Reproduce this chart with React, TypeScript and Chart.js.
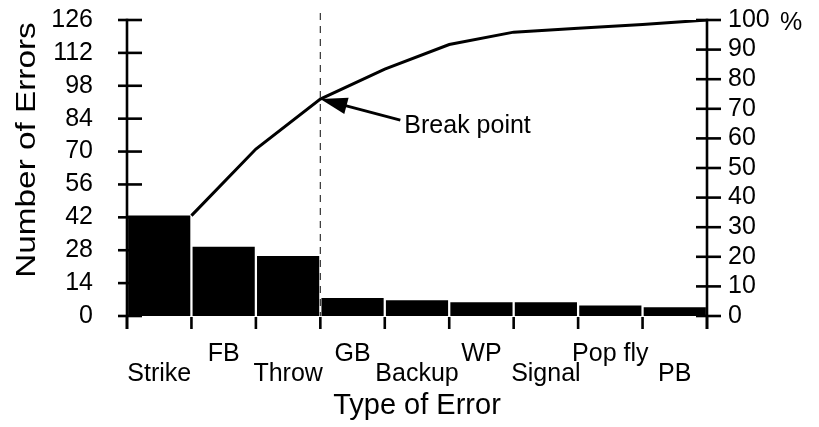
import React, { useEffect, useRef } from 'react';
import { Chart, registerables } from 'chart.js';

Chart.register(...registerables);

const FONT = '"Liberation Sans", Arial, Helvetica, sans-serif';

// ---- data ----
const categories = ['Strike', 'FB', 'Throw', 'GB', 'Backup', 'WP', 'Signal', 'Pop fly', 'PB'];
const errorCounts = [42.8, 29.5, 25.5, 7.7, 6.7, 5.8, 5.8, 4.5, 3.7];
const cumulativePct = [33.9, 56.4, 73.3, 83.4, 91.7, 95.9, 97.2, 98.5, 100];
const countTicks = [0, 14, 28, 42, 56, 70, 84, 98, 112, 126];
const pctTicks = [0, 10, 20, 30, 40, 50, 60, 70, 80, 90, 100];
const breakIndex = 2; // "Throw" – break point of the Pareto curve
const xTitle = 'Type of Error';
const yTitle = 'Number of Errors';
const y2Unit = '%';
const breakLabel = 'Break point';

export default function App() {
  const ref = useRef<HTMLCanvasElement>(null);

  useEffect(() => {
    document.body.style.margin = '0';
    const canvas = ref.current!;

    const overlay = {
      id: 'overlay',
      afterDatasetsDraw(chart: any) {
        const { ctx, chartArea } = chart;
        const { left, right, top, bottom } = chartArea;
        const y = chart.scales.y;
        const y2 = chart.scales.y2;
        const x2 = chart.scales.x2;
        const seg = (a: number, b: number, c: number, d: number) => {
          ctx.beginPath();
          ctx.moveTo(a, b);
          ctx.lineTo(c, d);
          ctx.stroke();
        };
        ctx.save();
        ctx.strokeStyle = '#000';
        ctx.fillStyle = '#000';
        ctx.lineWidth = 2.6;
        ctx.lineCap = 'butt';

        // left axis + ticks
        seg(left, y.getPixelForValue(countTicks[countTicks.length - 1]) - 1.3, left, bottom + 13);
        countTicks.forEach((v) => {
          const py = y.getPixelForValue(v);
          seg(left - 9, py, left + 15, py);
        });
        // right axis + ticks
        seg(right, y2.getPixelForValue(pctTicks[pctTicks.length - 1]) - 1.3, right, bottom + 13);
        pctTicks.forEach((v) => {
          const py = y2.getPixelForValue(v);
          seg(right - 11, py, right + 14, py);
        });
        // category boundary ticks
        for (let i = 0; i <= categories.length; i++) {
          const px = x2.getPixelForValue(i);
          seg(px, bottom + 1, px, bottom + 13);
        }

        // dashed break line
        const bx = x2.getPixelForValue(breakIndex + 1);
        const by = y2.getPixelForValue(cumulativePct[breakIndex]);
        ctx.save();
        ctx.lineWidth = 1.2;
        ctx.strokeStyle = '#333';
        ctx.setLineDash([7, 6]);
        seg(bx, top - 7, bx, bottom);
        ctx.restore();

        // arrow
        const dx = 80, dy = 21;
        const len = Math.hypot(dx, dy);
        const ux = dx / len, uy = dy / len;
        const px = -uy, py = ux;
        const hl = 27, hw = 8.5;
        ctx.lineWidth = 2.8;
        seg(bx + ux * (hl - 2), by + uy * (hl - 2), bx + dx, by + dy);
        ctx.beginPath();
        ctx.moveTo(bx, by);
        ctx.lineTo(bx + ux * hl + px * hw, by + uy * hl + py * hw);
        ctx.lineTo(bx + ux * hl - px * hw, by + uy * hl - py * hw);
        ctx.closePath();
        ctx.fill();

        ctx.font = `25px ${FONT}`;
        ctx.textAlign = 'left';
        ctx.textBaseline = 'alphabetic';
        ctx.fillText(breakLabel, bx + 84, by + 34);

        // % unit
        ctx.fillText(y2Unit, right + 73, y2.getPixelForValue(100) + 10);

        // x title
        ctx.font = `29px ${FONT}`;
        ctx.textAlign = 'center';
        ctx.fillText(xTitle, (left + right) / 2, 414);

        // y title (rotated)
        ctx.save();
        ctx.translate(35, 150);
        ctx.rotate(-Math.PI / 2);
        ctx.scale(1.19, 1);
        ctx.font = `28px ${FONT}`;
        ctx.textAlign = 'center';
        ctx.fillText(yTitle, 0, 0);
        ctx.restore();

        ctx.restore();
      },
    };

    const labels = categories.map((c, i) => (i % 2 === 0 ? ['', c] : [c]));

    const chart = new Chart(canvas, {
      type: 'bar',
      data: {
        labels,
        datasets: [
          {
            type: 'line',
            data: cumulativePct.map((v, i) => ({ x: i + 1, y: v })),
            xAxisID: 'x2',
            yAxisID: 'y2',
            borderColor: '#000',
            borderWidth: 3,
            pointRadius: 0,
            fill: false,
            tension: 0,
            order: 1,
          } as any,
          {
            type: 'bar',
            data: errorCounts,
            xAxisID: 'x',
            yAxisID: 'y',
            backgroundColor: '#000',
            borderWidth: 0,
            grouped: false,
            barPercentage: 0.965,
            categoryPercentage: 1,
            order: 2,
          } as any,
        ],
      },
      options: {
        responsive: false,
        animation: false,
        layout: { padding: { top: 20, left: 0, right: 0, bottom: 0 } },
        plugins: { legend: { display: false }, tooltip: { enabled: false } },
        scales: {
          x: {
            type: 'category',
            offset: true,
            grid: { display: false, drawTicks: false, tickLength: 0 },
            border: { display: false },
            ticks: {
              font: { family: FONT, size: 25, lineHeight: 0.8 },
              color: '#000',
              padding: 28,
              maxRotation: 0,
              minRotation: 0,
              autoSkip: false,
            },
            afterFit: (s: any) => {
              s.height = 111;
              s.paddingLeft = 0;
              s.paddingRight = 0;
            },
          },
          x2: {
            type: 'linear',
            display: false,
            offset: false,
            grid: { offset: false },
            min: 0,
            max: categories.length,
            afterBuildTicks: (s: any) => {
              s.ticks = categories.map((_, i) => ({ value: i })).concat([{ value: categories.length }]);
            },
          },
          y: {
            position: 'left',
            min: 0,
            max: countTicks[countTicks.length - 1],
            grid: { display: false, drawTicks: false, tickLength: 0 },
            border: { display: false },
            ticks: { font: { family: FONT, size: 25 }, color: '#000', padding: 34, autoSkip: false },
            afterBuildTicks: (s: any) => {
              s.ticks = countTicks.map((v) => ({ value: v }));
            },
            afterFit: (s: any) => {
              s.width = 127;
              s.paddingTop = 0;
              s.paddingBottom = 0;
            },
          },
          y2: {
            position: 'right',
            min: 0,
            max: pctTicks[pctTicks.length - 1],
            grid: { display: false, drawTicks: false, tickLength: 0 },
            border: { display: false },
            ticks: { font: { family: FONT, size: 25 }, color: '#000', padding: 21, autoSkip: false },
            afterBuildTicks: (s: any) => {
              s.ticks = pctTicks.map((v) => ({ value: v }));
            },
            afterFit: (s: any) => {
              s.width = 112;
              s.paddingTop = 0;
              s.paddingBottom = 0;
            },
          },
        },
      } as any,
      plugins: [overlay],
    });

    return () => chart.destroy();
  }, []);

  return (
    <div style={{ width: 819, height: 427 }}>
      <canvas ref={ref} width={819} height={427} style={{ display: 'block' }} />
    </div>
  );
}
